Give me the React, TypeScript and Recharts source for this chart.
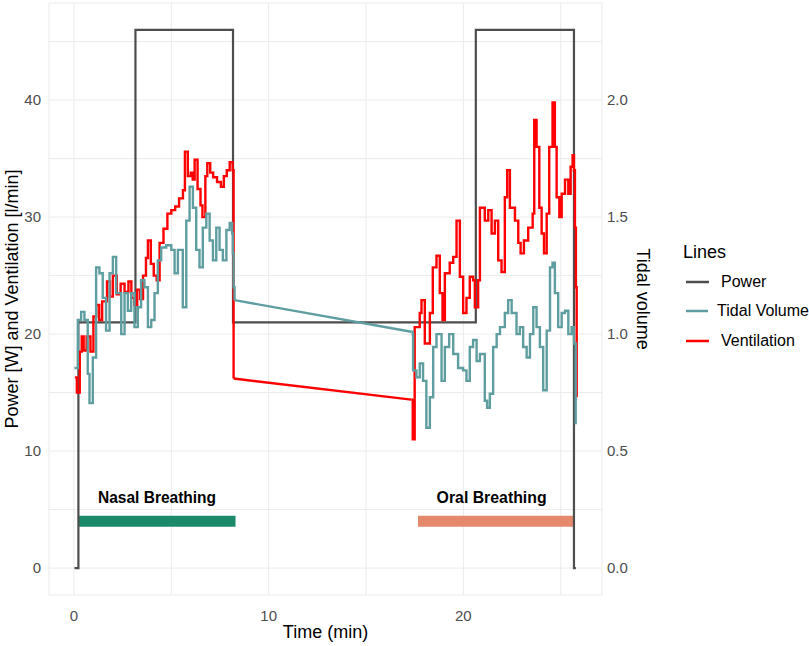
import {
  LineChart,
  Line,
  XAxis,
  YAxis,
  CartesianGrid,
  Legend,
  ReferenceDot,
} from "recharts";

// [time (min), value]
const power: [number, number][] = [
  [0.03, 0], [0.23, 21], [3.16, 46], [8.17, 21], [20.64, 46], [25.68, 0], [25.78, 0],
];

// ventilation in l/min
const ventilationNasal: [number, number][] = [
  [0.05, 16.3], [0.15, 15.0], [0.3, 18.5], [0.4, 19.8], [0.5, 18.6], [0.65, 19.8],
  [0.85, 18.5], [1.0, 21.5], [1.15, 22.5], [1.3, 21.2], [1.45, 22.8], [1.7, 24.5],
  [1.85, 23.2], [2.0, 25.0], [2.2, 23.4], [2.4, 24.3], [2.6, 23.6], [2.8, 24.5],
  [2.95, 23.1], [3.1, 22.5], [3.25, 23.8], [3.4, 23.0], [3.55, 25.0], [3.7, 26.5],
  [3.8, 28.0], [3.95, 26.0], [4.1, 25.0], [4.25, 24.6], [4.4, 27.8], [4.6, 29.0],
  [4.8, 30.3], [5.0, 30.6], [5.2, 30.9], [5.4, 31.6], [5.6, 32.3], [5.7, 35.6],
  [5.85, 33.5], [6.0, 33.8], [6.1, 33.2], [6.2, 34.9], [6.35, 32.4], [6.5, 31.0],
  [6.6, 30.0], [6.75, 33.5], [6.85, 34.6], [7.0, 33.8], [7.15, 33.4], [7.35, 33.0],
  [7.55, 32.6], [7.7, 33.5], [7.85, 34.0], [8.0, 34.7], [8.15, 34.0], [8.2, 16.2],
];
const ventilationGap: [number, number][] = [[8.2, 16.2], [17.33, 14.4]];
const ventilationOral: [number, number][] = [
  [17.33, 14.4], [17.4, 11.0], [17.5, 20.6], [17.76, 21.8], [17.85, 22.9], [18.02, 19.2],
  [18.28, 21.8], [18.43, 25.7], [18.62, 26.7], [18.79, 23.5], [18.93, 21.2], [19.05, 25.2],
  [19.3, 26.1], [19.48, 26.6], [19.65, 29.7], [19.82, 24.9], [19.99, 21.8], [20.16, 23.1],
  [20.33, 24.9], [20.5, 24.6], [20.59, 22.3], [20.76, 24.6], [20.85, 30.8], [21.1, 29.7],
  [21.28, 30.6], [21.45, 28.6], [21.62, 29.7], [21.79, 26.3], [21.96, 25.3], [22.13, 31.7],
  [22.25, 34.0], [22.39, 30.8], [22.65, 29.7], [22.82, 27.8], [22.94, 26.9], [23.11, 28.0],
  [23.33, 29.1], [23.56, 30.3], [23.64, 38.3], [23.76, 36.0], [23.9, 30.8], [24.02, 28.6],
  [24.14, 26.9], [24.28, 30.3], [24.41, 36.0], [24.58, 39.8], [24.7, 36.0], [24.79, 31.7],
  [24.93, 30.0], [25.05, 32.0], [25.22, 33.2], [25.39, 32.0], [25.51, 34.3], [25.61, 35.3],
  [25.68, 34.0], [25.73, 29.1], [25.78, 24.0], [25.82, 14.6],
];

// tidal volume in l
const tidalNasal: [number, number][] = [
  [0.03, 0.855], [0.2, 1.06], [0.37, 1.095], [0.54, 1.06], [0.71, 0.83], [0.8, 0.705],
  [0.97, 0.9], [1.14, 1.285], [1.31, 1.26], [1.48, 1.155], [1.65, 1.015], [1.83, 1.26],
  [2.0, 1.33], [2.17, 1.175], [2.43, 1.0], [2.6, 1.175], [2.77, 1.1], [2.94, 1.175],
  [3.11, 1.03], [3.28, 1.115], [3.45, 1.23], [3.62, 1.2], [3.8, 1.03], [3.97, 1.06],
  [4.14, 1.175], [4.31, 1.315], [4.48, 1.37], [4.74, 1.38], [5.0, 1.36], [5.17, 1.26],
  [5.34, 1.36], [5.59, 1.115], [5.77, 1.485], [5.94, 1.63], [6.11, 1.54], [6.28, 1.36],
  [6.45, 1.285], [6.62, 1.455], [6.8, 1.515], [6.97, 1.4], [7.14, 1.315], [7.31, 1.455],
  [7.48, 1.36], [7.65, 1.315], [7.83, 1.445], [8.0, 1.475], [8.13, 1.43], [8.16, 1.345],
  [8.2, 1.2], [8.25, 1.145],
];
const tidalGap: [number, number][] = [[8.25, 1.145], [17.33, 1.01]];
const tidalOral: [number, number][] = [
  [17.33, 1.01], [17.4, 1.0], [17.42, 0.845], [17.59, 0.815],
  [17.76, 0.875], [17.93, 0.8], [18.1, 0.6], [18.28, 0.73], [18.45, 0.945], [18.62, 1.0],
  [18.88, 0.8], [19.05, 0.945], [19.27, 1.0], [19.48, 0.915], [19.73, 0.855], [19.99, 0.845],
  [20.16, 0.8], [20.33, 0.945], [20.5, 0.975], [20.68, 0.885], [20.85, 0.915], [21.1, 0.715],
  [21.22, 0.685], [21.36, 0.745], [21.53, 0.945], [21.71, 1.0], [21.88, 1.03], [22.13, 1.09],
  [22.3, 1.145], [22.48, 1.09], [22.73, 1.0], [22.9, 1.03], [23.07, 0.945], [23.25, 0.9],
  [23.42, 1.0], [23.59, 1.115], [23.76, 1.03], [23.93, 0.945], [24.1, 0.76], [24.28, 1.015],
  [24.45, 1.285], [24.58, 1.305], [24.7, 1.175], [24.87, 1.03], [25.05, 1.09], [25.22, 1.1],
  [25.39, 1.0], [25.56, 1.03], [25.68, 0.96], [25.77, 0.615],
];

// breathing phase bars and their labels
const nasalBar: [number, number][] = [[0.23, 4], [8.3, 4]];
const oralBar: [number, number][] = [[17.67, 4], [25.68, 4]];
const phaseLabels = [
  { t: 4.27, v: 6.0, text: "Nasal Breathing", width: 118 },
  { t: 21.45, v: 6.0, text: "Oral Breathing", width: 110 },
];

const xTicks = [0, 5, 10, 15, 20, 25];
const leftTicks = [0, 5, 10, 15, 20, 25, 30, 35, 40, 45];
const rightTicks = [0, 0.5, 1, 1.5, 2];
const legendOrder = ["Power", "Tidal Volume", "Ventilation"];

const toRows = (pts: [number, number][]) => pts.map(([t, v]) => ({ t, v }));

const FONT = "'Liberation Sans', Arial, sans-serif";
const tickStyle = { fontSize: 15, fill: "#4d4d4d", fontFamily: FONT };
const RED = "#ff0000";
const TEAL = "#5f9ea0";

const LeftTitle = ({ viewBox }: any) => {
  const cx = viewBox.x + 12;
  const cy = viewBox.y + viewBox.height / 2;
  return (
    <text x={cx} y={cy} transform={`rotate(-90, ${cx}, ${cy})`} textAnchor="middle"
      dominantBaseline="central" fontSize={18} fontFamily={FONT} fill="#000">
      Power [W] and Ventilation [l/min]
    </text>
  );
};

const RightTitle = ({ viewBox }: any) => {
  const cx = viewBox.x + 41;
  const cy = viewBox.y + viewBox.height / 2;
  return (
    <text x={cx} y={cy} transform={`rotate(90, ${cx}, ${cy})`} textAnchor="middle"
      dominantBaseline="central" fontSize={18} fontFamily={FONT} fill="#000">
      Tidal volume
    </text>
  );
};

const BottomTitle = ({ viewBox }: any) => (
  <text x={viewBox.x + viewBox.width / 2} y={viewBox.y + 37} textAnchor="middle"
    dominantBaseline="central" fontSize={18} fontFamily={FONT} fill="#000">
    Time (min)
  </text>
);

const PhaseLabel = ({ viewBox, text, width }: any) => (
  <text x={viewBox.x + viewBox.width / 2} y={viewBox.y + viewBox.height / 2}
    textAnchor="middle" dominantBaseline="central" fontSize={17} fontWeight={700}
    textLength={width} lengthAdjust="spacingAndGlyphs"
    fontFamily={FONT} fill="#000">
    {text}
  </text>
);

const LegendBox = ({ payload }: any) => {
  const items = (payload || [])
    .filter((e: any) => legendOrder.includes(e.value) && e.type !== "none")
    .filter((e: any, i: number, arr: any[]) => arr.findIndex((o: any) => o.value === e.value) === i)
    .sort((a: any, b: any) => legendOrder.indexOf(a.value) - legendOrder.indexOf(b.value));
  return (
    <div style={{ fontFamily: FONT, color: "#000", whiteSpace: "nowrap" }}>
      <div style={{ fontSize: 18, lineHeight: "18px", marginBottom: 6 }}>Lines</div>
      {items.map((e: any) => (
        <div key={e.value} style={{ display: "flex", alignItems: "center", height: 29.5 }}>
          <svg width={26} height={6} style={{ marginLeft: 3 }}>
            <line x1={0} x2={23} y1={3} y2={3} stroke={e.color} strokeWidth={2.5} />
          </svg>
          <span style={{ marginLeft: 9, fontSize: 16 }}>{e.value}</span>
        </div>
      ))}
    </div>
  );
};

const common = { dot: false, activeDot: false, isAnimationActive: false } as const;

export default function App() {
  return (
    <div style={{ position: "absolute", left: 0, top: 0, background: "#fff" }}>
      <LineChart width={809} height={646} margin={{ top: 3, right: 125, bottom: 0, left: 0 }}>
        <CartesianGrid stroke="#ebebeb" yAxisId="left" />
        <XAxis
          dataKey="t"
          type="number"
          domain={[-1.28, 27.12]}
          ticks={xTicks}
          tickFormatter={(v: number) => (v % 10 === 0 ? String(v) : "")}
          axisLine={false}
          tickLine={false}
          tickSize={6}
          tickMargin={9}
          height={51}
          tick={tickStyle}
          allowDataOverflow
          label={<BottomTitle />}
        />
        <YAxis
          yAxisId="left"
          type="number"
          domain={[-2.3, 48.3]}
          ticks={leftTicks}
          tickFormatter={(v: number) => (v % 10 === 0 ? String(v) : "")}
          axisLine={false}
          tickLine={false}
          width={49}
          tick={tickStyle}
          allowDataOverflow
          label={<LeftTitle />}
        />
        <YAxis
          yAxisId="right"
          orientation="right"
          type="number"
          domain={[-0.115, 2.415]}
          ticks={rightTicks}
          tickFormatter={(v: number) => v.toFixed(1)}
          axisLine={false}
          tickLine={false}
          tickSize={0}
          tickMargin={5}
          width={82}
          tick={tickStyle}
          allowDataOverflow
          label={<RightTitle />}
        />
        <Legend
          layout="horizontal"
          align="center"
          verticalAlign="middle"
          content={<LegendBox />}
          wrapperStyle={{ left: 683, top: 243, width: 126, height: "auto" }}
        />
        <Line yAxisId="left" data={toRows(nasalBar)} dataKey="v" stroke="#1b8a6b" strokeWidth={11}
          legendType="none" {...common} />
        <Line yAxisId="left" data={toRows(oralBar)} dataKey="v" stroke="#e4896c" strokeWidth={11}
          legendType="none" {...common} />
        <Line yAxisId="left" name="Power" data={toRows(power)} dataKey="v" type="stepAfter"
          stroke="#4d4d4d" strokeWidth={2.2} {...common} />
        <Line yAxisId="left" name="Ventilation" data={toRows(ventilationNasal)} dataKey="v"
          type="stepAfter" stroke={RED} strokeWidth={2.4} {...common} />
        <Line yAxisId="left" data={toRows(ventilationGap)} dataKey="v" type="linear"
          stroke={RED} strokeWidth={2.4} legendType="none" {...common} />
        <Line yAxisId="left" data={toRows(ventilationOral)} dataKey="v" type="stepAfter"
          stroke={RED} strokeWidth={2.4} legendType="none" {...common} />
        <Line yAxisId="right" name="Tidal Volume" data={toRows(tidalNasal)} dataKey="v"
          type="stepAfter" stroke={TEAL} strokeWidth={2.4} {...common} />
        <Line yAxisId="right" data={toRows(tidalGap)} dataKey="v" type="linear"
          stroke={TEAL} strokeWidth={2.4} legendType="none" {...common} />
        <Line yAxisId="right" data={toRows(tidalOral)} dataKey="v" type="stepAfter"
          stroke={TEAL} strokeWidth={2.4} legendType="none" {...common} />
        {phaseLabels.map((p) => (
          <ReferenceDot key={p.text} yAxisId="left" x={p.t} y={p.v} r={1} fill="none" stroke="none"
            ifOverflow="visible" label={<PhaseLabel text={p.text} width={p.width} />} />
        ))}
      </LineChart>
    </div>
  );
}
